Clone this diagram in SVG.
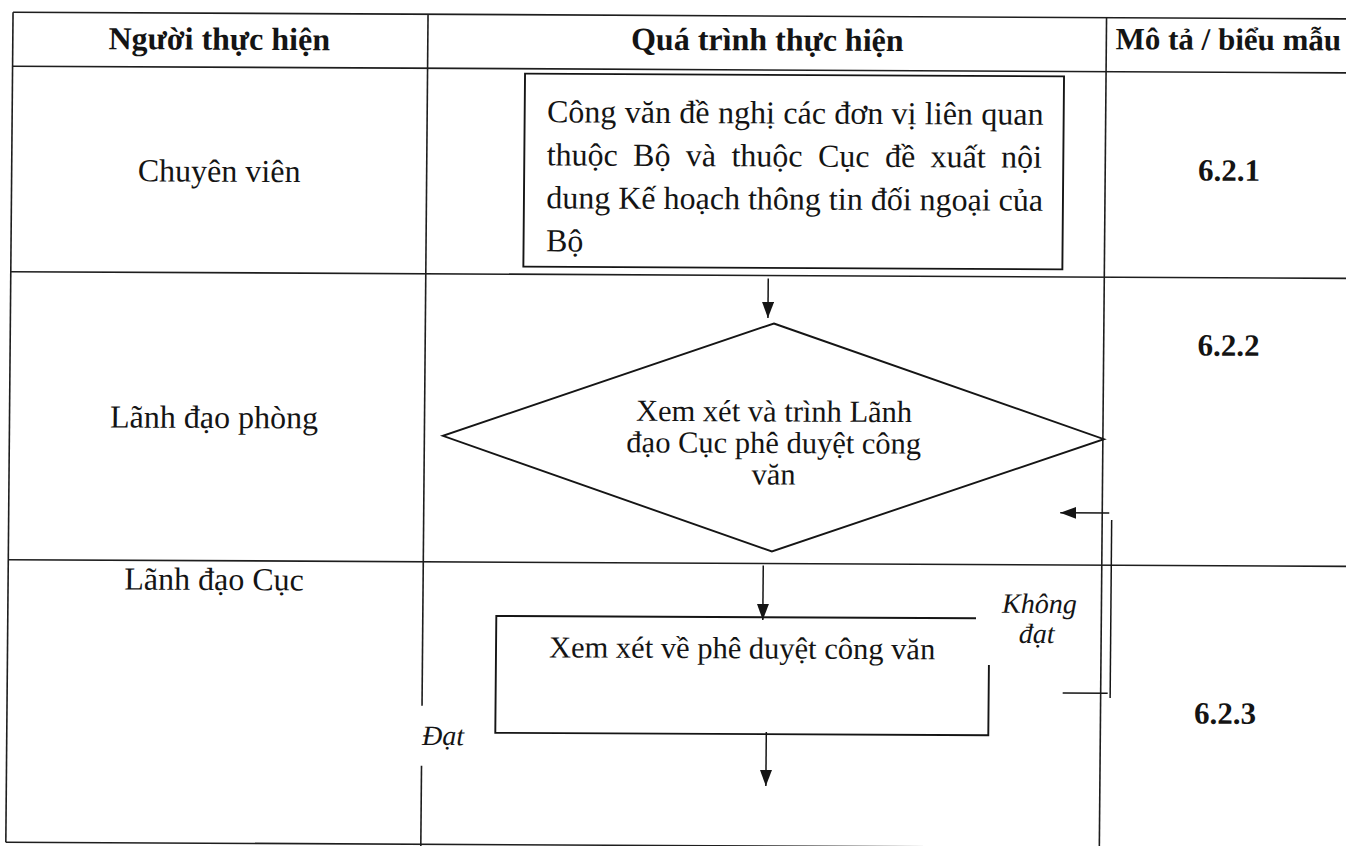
<svg xmlns="http://www.w3.org/2000/svg" width="1346" height="846" viewBox="0 0 1346 846">
  <style>
    .grid { stroke: #1e1e1e; stroke-width: 1.6; fill: none; }
    .shape { stroke: #151515; stroke-width: 1.9; fill: none; }
    .flow { stroke: #151515; stroke-width: 1.5; fill: none; }
    text { font-family: "Liberation Serif", "Times New Roman", serif; fill: #141414; }
    .hd { font-weight: bold; font-size: 32px; text-anchor: middle; }
    .lane { font-size: 32px; text-anchor: middle; }
    .code { font-weight: bold; font-size: 31px; text-anchor: middle; }
    .body { font-size: 32px; }
    .step { font-size: 30.5px; }
    .note { font-style: italic; font-size: 28px; }
  </style>
  <defs>
    <marker id="arrow" markerUnits="userSpaceOnUse" markerWidth="16" markerHeight="12" refX="16" refY="6" orient="auto">
      <path d="M0,0 L16,6 L0,12 z" fill="#151515"/>
    </marker>
  </defs>
  <rect width="1346" height="846" fill="#ffffff"/>

  <!-- the sheet is slightly skewed: verticals lean left going down, horizontals drop to the right -->
  <g transform="matrix(1 0.005 -0.0087 1 3.68 -3.365)">

    <!-- table grid -->
    <g id="grid" class="grid">
      <line x1="9.5" y1="15.5" x2="1370" y2="15.5"/>
      <line x1="9.5" y1="69.5" x2="1370" y2="69.5"/>
      <line x1="9.5" y1="275" x2="1370" y2="275"/>
      <line x1="9.5" y1="563" x2="1370" y2="563"/>
      <line x1="9.5" y1="845.5" x2="1370" y2="845.5"/>
      <line x1="9.5" y1="15.5" x2="9.5" y2="845.5"/>
      <line x1="424.5" y1="15.5" x2="424.5" y2="707"/>
      <line x1="424.5" y1="767" x2="424.5" y2="860"/>
      <line x1="1103" y1="15.5" x2="1103" y2="860"/>
    </g>

    <!-- column headings -->
    <g id="header">
      <text class="hd" x="216" y="52">Người thực hiện</text>
      <text class="hd" x="764" y="50">Quá trình thực hiện</text>
      <text class="hd" x="1225" y="47" style="font-size:31px">Mô tả / biểu mẫu</text>
    </g>

    <!-- lanes -->
    <g id="lane-chuyen-vien">
      <text class="lane" x="217" y="184">Chuyên viên</text>
    </g>
    <g id="lane-lanh-dao-phong">
      <text class="lane" x="214" y="430.3">Lãnh đạo phòng</text>
    </g>
    <g id="lane-lanh-dao-cuc">
      <text class="lane" x="215.5" y="592.3">Lãnh đạo Cục</text>
    </g>

    <!-- form references -->
    <g id="ref-6-2-1"><text class="code" x="1227" y="178">6.2.1</text></g>
    <g id="ref-6-2-2"><text class="code" x="1228" y="353">6.2.2</text></g>
    <g id="ref-6-2-3"><text class="code" x="1227.5" y="721">6.2.3</text></g>

    <!-- step 1: request letter -->
    <g id="step-cong-van">
      <rect class="shape" x="522" y="74.4" width="539" height="193"/>
      <text class="body" x="544.4" y="123" word-spacing="0.4">Công văn đề nghị các đơn vị liên quan</text>
      <text class="body" x="544.4" y="166" word-spacing="7.4">thuộc Bộ và thuộc Cục đề xuất nội</text>
      <text class="body" x="544.4" y="209">dung Kế hoạch thông tin đối ngoại của</text>
      <text class="body" x="544.4" y="252">Bộ</text>
    </g>

    <!-- step 2: review decision -->
    <g id="step-xem-xet">
      <polygon class="shape" points="773,323 1104,437 773,551 443,437"/>
      <text class="step" x="774" y="421" text-anchor="middle">Xem xét và trình Lãnh</text>
      <text class="step" x="774" y="452.5" text-anchor="middle">đạo Cục phê duyệt công</text>
      <text class="step" x="774" y="484" text-anchor="middle">văn</text>
    </g>

    <!-- step 3: approval -->
    <g id="step-phe-duyet">
      <path class="shape" d="M977.7,616.8 H498 V733.7 H991 V663.4"/>
      <text class="step" x="551" y="658">Xem xét về phê duyệt công văn</text>
    </g>

    <!-- connectors -->
    <g id="connectors" class="flow">
      <line x1="767" y1="278" x2="767" y2="317.5" marker-end="url(#arrow)"/>
      <line x1="764.5" y1="565" x2="764.5" y2="619.5" marker-end="url(#arrow)"/>
      <line x1="769" y1="731.5" x2="769" y2="785.5" marker-end="url(#arrow)"/>
      <line x1="1065" y1="691" x2="1110" y2="691"/>
      <line x1="1112.5" y1="517.8" x2="1112.5" y2="695.8"/>
      <line x1="1110" y1="510.9" x2="1061" y2="510.9" marker-end="url(#arrow)"/>
    </g>

    <!-- branch labels -->
    <g id="branch-labels">
      <text class="note" x="1041" y="611.2" text-anchor="middle">Không</text>
      <text class="note" x="1038.5" y="641.2" text-anchor="middle">đạt</text>
      <text class="note" x="424.8" y="746.2">Đạt</text>
    </g>
  </g>
</svg>
